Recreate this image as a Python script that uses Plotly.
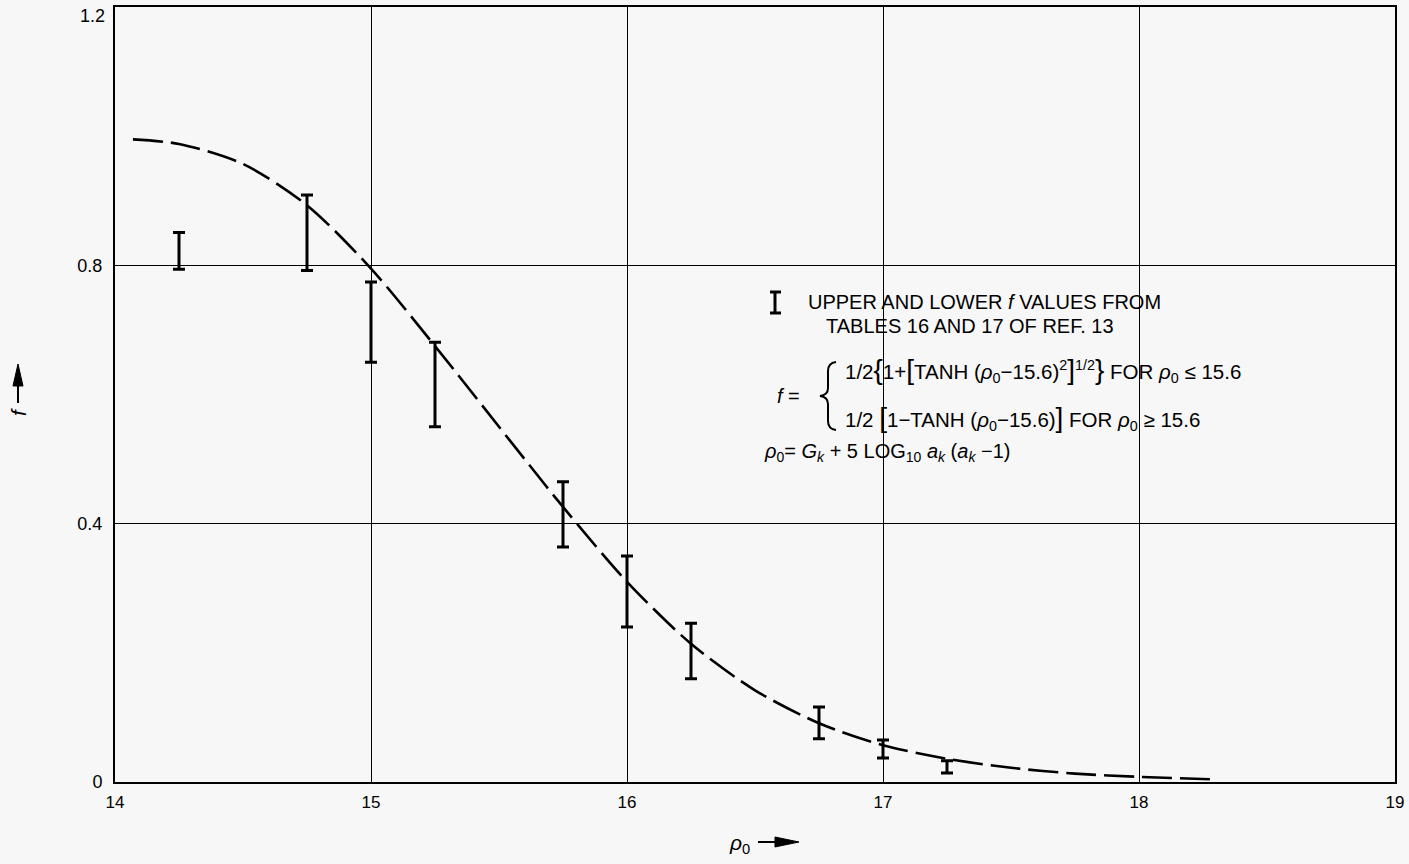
import plotly.graph_objects as go

# ---------------- data ----------------
p0_bars = [14.25, 14.75, 15.0, 15.25, 15.75, 16.0, 16.25, 16.75, 17.0, 17.25]
f_upper = [0.851, 0.909, 0.774, 0.681, 0.465, 0.350, 0.246, 0.116, 0.065, 0.033]
f_lower = [0.794, 0.792, 0.650, 0.550, 0.364, 0.240, 0.160, 0.067, 0.037, 0.014]

curve_p0 = [14.07, 14.25, 14.5, 14.75, 15.0, 15.25, 15.5, 15.6, 15.75, 16.0,
            16.25, 16.5, 16.75, 17.0, 17.25, 17.5, 17.75, 18.0, 18.3]
curve_f = [0.995, 0.988, 0.957, 0.893, 0.795, 0.675, 0.550, 0.500, 0.426, 0.310,
           0.214, 0.142, 0.091, 0.057, 0.036, 0.022, 0.013, 0.008, 0.004]

x_ticks = [14, 15, 16, 17, 18, 19]
x_tick_labels = ["14", "15", "16", "17", "18", "19"]
y_ticks = [0, 0.4, 0.8, 1.2]
y_tick_labels = ["0", "0.4", "0.8", "1.2"]

# ---------------- layout geometry ----------------
W, H = 1409, 864
L, R, T, B = 115, 1395, 7, 782
FONT = "Liberation Sans, Arial, sans-serif"


def P(px, py):
    return (px - L) / (R - L), (B - py) / (B - T)


def path(cmds):
    out = []
    for cmd, pts in cmds:
        coords = []
        for (px, py) in pts:
            x, y = P(px, py)
            coords.append(f"{x:.5f},{y:.5f}")
        out.append(cmd + " ".join(coords))
    return " ".join(out)


mid = [(u + l) / 2 for u, l in zip(f_upper, f_lower)]
e_plus = [u - m for u, m in zip(f_upper, mid)]
e_minus = [m - l for m, l in zip(mid, f_lower)]

fig = go.Figure()
fig.add_trace(go.Scatter(
    x=curve_p0, y=curve_f, mode="lines",
    line=dict(color="black", width=2.6, dash="30px,8px", shape="spline", smoothing=0.8),
    hoverinfo="skip", showlegend=False,
))
fig.add_trace(go.Scatter(
    x=p0_bars, y=mid, mode="markers",
    marker=dict(size=1, color="rgba(0,0,0,0)"),
    error_y=dict(type="data", symmetric=False, array=e_plus, arrayminus=e_minus,
                 color="black", thickness=3, width=6),
    showlegend=False,
))

shapes = []
# legend key "I"
for seg in [((775, 292), (775, 313)), ((770, 292), (781, 292)), ((770, 313), (781, 313))]:
    (x0, y0), (x1, y1) = P(*seg[0]), P(*seg[1])
    shapes.append(dict(type="line", xref="paper", yref="paper", x0=x0, y0=y0, x1=x1, y1=y1,
                       line=dict(color="black", width=3)))
# big brace
brace = path([
    ("M", [(836, 362)]),
    ("Q", [(828, 363), (828, 371)]),
    ("L", [(828, 388)]),
    ("Q", [(828, 395), (820, 396)]),
    ("Q", [(828, 397), (828, 404)]),
    ("L", [(828, 421)]),
    ("Q", [(828, 429), (836, 430)]),
])
shapes.append(dict(type="path", xref="paper", yref="paper", path=brace,
                   line=dict(color="black", width=2)))
# x title arrow
x0, y0 = P(758, 842)
x1, y1 = P(777, 842)
shapes.append(dict(type="line", xref="paper", yref="paper", x0=x0, y0=y0, x1=x1, y1=y1,
                   line=dict(color="black", width=2)))
shapes.append(dict(type="path", xref="paper", yref="paper",
                   path=path([("M", [(775, 837)]), ("L", [(799, 842)]), ("L", [(775, 847)]), ("Z", [])]),
                   fillcolor="black", line=dict(color="black", width=1)))
# y title arrow
x0, y0 = P(18, 403)
x1, y1 = P(18, 384)
shapes.append(dict(type="line", xref="paper", yref="paper", x0=x0, y0=y0, x1=x1, y1=y1,
                   line=dict(color="black", width=2)))
shapes.append(dict(type="path", xref="paper", yref="paper",
                   path=path([("M", [(13, 386)]), ("L", [(18, 364)]), ("L", [(23, 386)]), ("Z", [])]),
                   fillcolor="black", line=dict(color="black", width=1)))

big = "<span style='font-size:28px'>"
ann = []


def text(px, py, s, size=20, xanchor="left", angle=0):
    x, y = P(px, py)
    ann.append(dict(xref="paper", yref="paper", x=x, y=y, text=s, showarrow=False,
                    xanchor=xanchor, yanchor="middle", textangle=angle,
                    font=dict(family=FONT, size=size, color="black")))


rho = "<i>ρ</i><sub>0</sub>"
text(806, 302, "UPPER AND LOWER <i>f</i> VALUES FROM")
text(824, 326, "TABLES 16 AND 17 OF REF. 13")
text(775, 396, "<i>f</i> =")
text(843, 370, "1/2" + big + "{</span>1+" + big + "[</span>TANH (" + rho + "−15.6)<sup>2</sup>"
     + big + "]</span><sup>1/2</sup>" + big + "}</span> FOR " + rho + " ≤ 15.6", size=20.5)
text(843, 418, "1/2 " + big + "[</span>1−TANH (" + rho + "−15.6)" + big + "]</span> FOR "
     + rho + " ≥ 15.6", size=20.5)
text(762, 453, rho + "= <i>G</i><sub><i>k</i></sub> + 5 LOG<sub>10</sub> <i>a</i><sub><i>k</i></sub>"
     " (<i>a</i><sub><i>k</i></sub> −1)")
# axis titles
text(739, 844, rho, size=21, xanchor="center")
text(18, 412, "<i>f</i>", size=21, xanchor="center", angle=-90)

# top y tick label sits just below the frame in the reference
y_tick_text = [t if v != y_ticks[-1] else "" for v, t in zip(y_ticks, y_tick_labels)]
text(107, 16, y_tick_labels[-1], size=18, xanchor="right")

fig.update_layout(
    width=W, height=H,
    margin=dict(l=L, r=W - R, t=T, b=H - B, autoexpand=False),
    paper_bgcolor="#f7f7f7", plot_bgcolor="#f7f7f7",
    font=dict(family=FONT, size=17, color="black"),
    shapes=shapes, annotations=ann, showlegend=False,
)
fig.update_xaxes(range=[14, 19], tickmode="array", tickvals=x_ticks, ticktext=x_tick_labels,
                 showgrid=True, gridcolor="black", gridwidth=1, zeroline=False,
                 showline=True, linecolor="black", linewidth=2, mirror=True,
                 ticks="", ticklabelstandoff=4, ticklabeloverflow="allow",
                 tickfont=dict(size=17))
fig.update_yaxes(range=[0, 1.2], tickmode="array", tickvals=y_ticks, ticktext=y_tick_text,
                 showgrid=True, gridcolor="black", gridwidth=1, zeroline=False,
                 showline=True, linecolor="black", linewidth=2, mirror=True,
                 ticks="", ticklabelstandoff=7, ticklabeloverflow="allow",
                 tickfont=dict(size=18))

fig.write_html("out.html", config={"displayModeBar": False},
               post_script="document.body.style.margin='0px';"
               "document.body.style.background='#f7f7f7';")
